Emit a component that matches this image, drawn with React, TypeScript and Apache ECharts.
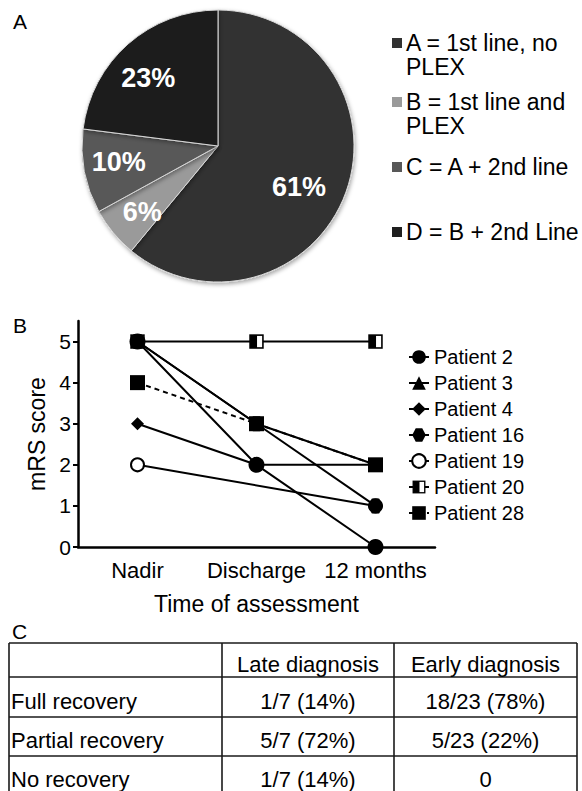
import React, { useEffect, useRef } from "react";
import * as echarts from "echarts";

// ---------- Panel A: pie ----------
const pieCategories = ["A", "B", "C", "D"];
const pieLegendLines = [
  ["A = 1st line, no", "PLEX"],
  ["B = 1st line and", "PLEX"],
  ["C = A + 2nd line"],
  ["D = B + 2nd Line"],
];
const pieValues = [61, 6, 10, 23];
const pieColors = ["#323232", "#9a9a9a", "#585858", "#1f1f1f"];

// ---------- Panel B: lines ----------
const timepoints = ["Nadir", "Discharge", "12 months"];
const yTickValues = [0, 1, 2, 3, 4, 5];
const patientNames = [
  "Patient 2",
  "Patient 3",
  "Patient 4",
  "Patient 16",
  "Patient 19",
  "Patient 20",
  "Patient 28",
];
const patient2 = [5, 2, 0];
const patient3 = [5, 3, 2];
const patient4 = [3, 2, 2];
const patient16 = [5, 3, 1];
const patient19 = [2, null, 1];
const patient20 = [5, 5, 5];
const patient28 = [4, 3, 2];

// ---------- Panel C: table ----------
const tableHeader = ["", "Late diagnosis", "Early diagnosis"];
const tableRowLabels = ["Full recovery", "Partial recovery", "No recovery"];
const lateDiagnosis = ["1/7 (14%)", "5/7 (72%)", "1/7 (14%)"];
const earlyDiagnosis = ["18/23 (78%)", "5/23 (22%)", "0"];

const FONT = "Liberation Sans";

const halfSquare =
  "image://data:image/svg+xml;charset=utf-8," +
  encodeURIComponent(
    "<svg xmlns='http://www.w3.org/2000/svg' width='28' height='28' viewBox='0 0 28 28'>" +
      "<rect x='2' y='2' width='24' height='24' fill='#ffffff' stroke='#000000' stroke-width='3'/>" +
      "<rect x='2' y='2' width='13' height='24' fill='#000000'/></svg>"
  );
const hexagon = "path://M0,5 L2.6,0.6 L7.4,0.6 L10,5 L7.4,9.4 L2.6,9.4 Z";

export default function App() {
  const ref = useRef<HTMLDivElement>(null);

  useEffect(() => {
    if (!ref.current) return;
    const chart = echarts.init(ref.current, undefined, { renderer: "svg" });

    const mkLine = (
      name: string,
      data: (number | null)[],
      symbol: string,
      size: number,
      z: number,
      extra: any = {}
    ) => ({
      type: "line",
      name,
      data,
      symbol,
      symbolSize: size,
      connectNulls: true,
      z,
      lineStyle: { color: "#000", width: 2, ...(extra.lineStyle || {}) },
      itemStyle: { color: "#000", ...(extra.itemStyle || {}) },
      emphasis: { disabled: true },
      silent: true,
    });

    const graphics: any[] = [];
    // panel letters
    [
      ["A", 13, 21],
      ["B", 13, 325],
      ["C", 12, 631],
    ].forEach(([t, x, y]) =>
      graphics.push({
        type: "text",
        x,
        y,
        style: { text: t, fontSize: 21, fontFamily: FONT, fill: "#000", align: "left", verticalAlign: "middle" },
      })
    );

    // pie legend
    const legendRowY = [43, 102, 167, 232];
    pieLegendLines.forEach((lines, i) => {
      graphics.push({
        type: "rect",
        shape: { x: 392, y: legendRowY[i] - 5, width: 10, height: 10 },
        style: { fill: pieColors[i] },
      });
      lines.forEach((ln, j) =>
        graphics.push({
          type: "text",
          x: 406,
          y: legendRowY[i] + j * 24,
          style: { text: ln, fontSize: 23, fontFamily: FONT, fill: "#000", align: "left", verticalAlign: "middle" },
        })
      );
    });

    // table
    const colX = [9, 222, 394, 577];
    const rowY = [643, 677, 717, 756, 795];
    const lineStyle = { stroke: "#1a1a1a", lineWidth: 1.6 };
    rowY.forEach((y) =>
      graphics.push({ type: "line", shape: { x1: colX[0], y1: y, x2: colX[3], y2: y }, style: lineStyle })
    );
    colX.forEach((x) =>
      graphics.push({ type: "line", shape: { x1: x, y1: rowY[0], x2: x, y2: 800 }, style: lineStyle })
    );
    const rows = [tableHeader, ...tableRowLabels.map((l, i) => [l, lateDiagnosis[i], earlyDiagnosis[i]])];
    rows.forEach((r, ri) => {
      const cy = (rowY[ri] + rowY[ri + 1]) / 2 + 4;
      r.forEach((cell, ci) => {
        if (!cell) return;
        graphics.push({
          type: "text",
          x: ci === 0 ? colX[0] + 2 : (colX[ci] + colX[ci + 1]) / 2,
          y: cy,
          style: {
            text: cell,
            fontSize: 22,
            lineHeight: 22,
            fontFamily: FONT,
            fill: "#000",
            align: ci === 0 ? "left" : "center",
            verticalAlign: "middle",
          },
        });
      });
    });

    const pieData = pieCategories.map((c, i) => ({
      name: c,
      value: pieValues[i],
      itemStyle: { color: pieColors[i] },
    }));
    const labelOffsets = [[-14, 7], [2, 2], [0, -3], [-3, 8]];

    chart.setOption({
      animation: false,
      textStyle: { fontFamily: FONT },
      grid: { left: 78, right: 147, top: 321, bottom: 244, containLabel: false },
      xAxis: {
        type: "category",
        data: timepoints,
        boundaryGap: true,
        axisLine: { lineStyle: { color: "#000", width: 2.5 } },
        axisTick: { alignWithLabel: true, length: 5, lineStyle: { color: "#000", width: 2 } },
        axisLabel: { color: "#000", fontSize: 22, margin: 12, fontFamily: FONT, interval: 0 },
        name: "Time of assessment",
        nameLocation: "middle",
        nameGap: 45,
        nameTextStyle: { color: "#000", fontSize: 23, fontFamily: FONT },
        splitLine: { show: false },
      },
      yAxis: {
        type: "value",
        min: 0,
        max: 5.5,
        interval: 1,
        axisLine: { show: true, lineStyle: { color: "#000", width: 2.5 } },
        axisTick: { show: true, length: 5, lineStyle: { color: "#000", width: 2 }, customValues: yTickValues },
        axisLabel: { color: "#000", fontSize: 21, margin: 7, fontFamily: FONT, customValues: yTickValues },
        splitLine: { show: false },
        name: "mRS score",
        nameLocation: "middle",
        nameGap: 28,
        nameTextStyle: { color: "#000", fontSize: 23, fontFamily: FONT },
      },
      legend: {
        data: patientNames,
        orient: "vertical",
        left: 403,
        top: 342,
        itemWidth: 20,
        itemHeight: 17,
        itemGap: 6,
        itemTextGap: 14,
        selectedMode: false,
        textStyle: { color: "#000", fontSize: 20, lineHeight: 20, fontFamily: FONT },
      },
      series: [
        {
          type: "pie",
          center: [218, 146],
          radius: [0, 136],
          startAngle: 90,
          clockwise: true,
          data: pieData,
          label: { show: false },
          labelLine: { show: false },
          silent: true,
          emphasis: { disabled: true },
          itemStyle: {
            borderColor: "#d8d8d8",
            borderWidth: 1,
            shadowBlur: 4,
            shadowColor: "rgba(0,0,0,0.35)",
            shadowOffsetX: 1,
            shadowOffsetY: 2,
          },
        },
        {
          type: "pie",
          center: [218, 146],
          radius: [60, 136],
          startAngle: 90,
          clockwise: true,
          data: pieCategories.map((c, i) => ({
            name: c,
            value: pieValues[i],
            label: { offset: labelOffsets[i] },
          })),
          itemStyle: { color: "rgba(0,0,0,0)", borderWidth: 0 },
          label: {
            show: true,
            position: "inside",
            formatter: "{c}%",
            color: "#fff",
            fontSize: 27,
            fontWeight: "bold",
            fontFamily: FONT,
          },
          labelLine: { show: false },
          silent: true,
          emphasis: { disabled: true },
        },
        mkLine("Patient 20", patient20, halfSquare, 15, 2),
        mkLine("Patient 19", patient19, "circle", 13, 2, {
          itemStyle: { color: "#fff", borderColor: "#000", borderWidth: 2 },
        }),
        mkLine("Patient 4", patient4, "diamond", 13, 3),
        mkLine("Patient 3", patient3, "triangle", 13, 3),
        mkLine("Patient 16", patient16, hexagon, 15, 4),
        mkLine("Patient 28", patient28, "rect", 15, 4, { lineStyle: { type: [5, 4] } }),
        mkLine("Patient 2", patient2, "circle", 16, 5),
      ],
      graphic: graphics,
    });

    return () => chart.dispose();
  }, []);

  return (
    <div
      ref={ref}
      style={{ position: "fixed", left: 0, top: 0, width: 582, height: 791, background: "#fff" }}
    />
  );
}
